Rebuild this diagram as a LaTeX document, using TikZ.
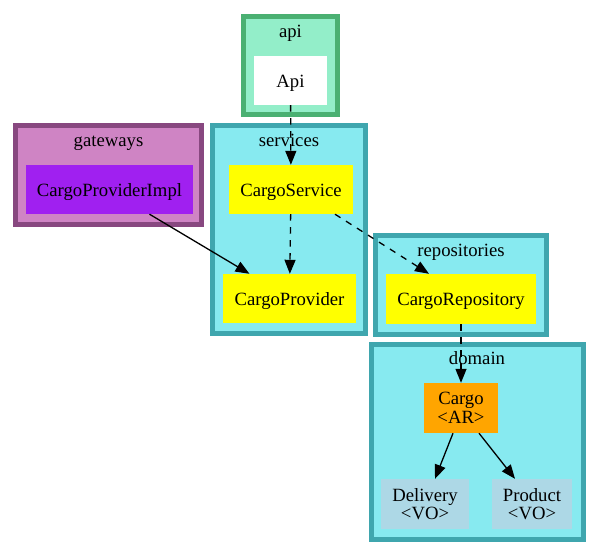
\documentclass[tikz,border=0pt]{standalone}
\usepackage{fontspec}
\setmainfont{Liberation Serif}
\usetikzlibrary{arrows.meta}
\definecolor{apifill}{HTML}{93EEC9}
\definecolor{apiline}{HTML}{4AB072}
\definecolor{gwfill}{HTML}{CF84C4}
\definecolor{gwline}{HTML}{884880}
\definecolor{implfill}{HTML}{A020F0}
\definecolor{pkgfill}{HTML}{87EAF0}
\definecolor{pkgline}{HTML}{3FA6AE}
\definecolor{portfill}{HTML}{FFFF00}
\definecolor{arfill}{HTML}{FFA500}
\definecolor{vofill}{HTML}{ADD8E6}
\begin{document}
\begin{tikzpicture}[x=1pt, y=-1pt,
    every node/.style={font=\fontsize{18.7}{18.5}\selectfont},
    frame/.style={line width=5.4pt},
    box/.style={inner sep=0pt, align=center},
    oneline/.style={box, text height=17pt, text depth=4pt},
    lbl/.style={anchor=base, inner sep=0pt},
    dep/.style={line width=1.3pt, dash pattern=on 6.5pt off 6.5pt, -{Triangle[length=14pt, width=11pt]}},
    use/.style={line width=1.3pt, -{Triangle[length=14pt, width=11pt]}}]
    \useasboundingbox (0,0) rectangle (599,555);
    % packages
    \draw[frame, draw=apiline, fill=apifill] (243.7,16.7) rectangle (337.3,114.3);
    \draw[frame, draw=gwline, fill=gwfill] (15.7,125.7) rectangle (201.3,224.3);
    \draw[frame, draw=pkgline, fill=pkgfill] (212.7,125.7) rectangle (365.3,333.3);
    \draw[frame, draw=pkgline, fill=pkgfill] (375.7,235.7) rectangle (546.3,334.3);
    \draw[frame, draw=pkgline, fill=pkgfill] (371.7,344.7) rectangle (583.3,539.3);
    \node[lbl] (apilbl) at (290.5,37) {api};
    \node[lbl] (gwlbl) at (108.5,146) {gateways};
    \node[lbl] (svclbl) at (289,146) {services};
    \node[lbl] (repolbl) at (461,256) {repositories};
    \node[lbl] (domlbl) at (477,364) {domain};
    % classes
    \node[oneline, fill=white, minimum width=73pt, minimum height=49pt] (api) at (290.5,80.5) {Api};
    \node[oneline, fill=implfill, minimum width=167pt, minimum height=49pt] (impl) at (109.5,189.5) {CargoProviderImpl};
    \node[oneline, fill=portfill, minimum width=124pt, minimum height=49pt] (svc) at (291,189.5) {CargoService};
    \node[oneline, fill=portfill, minimum width=133pt, minimum height=49pt] (prov) at (289.5,298.5) {CargoProvider};
    \node[oneline, fill=portfill, minimum width=150pt, minimum height=50pt] (repo) at (461,299) {CargoRepository};
    \node[box, fill=arfill, minimum width=74pt, minimum height=50pt] (cargo) at (461,408) {Cargo\\<AR>};
    \node[box, fill=vofill, minimum width=88pt, minimum height=50pt] (deliv) at (425,504) {Delivery\\<VO>};
    \node[box, fill=vofill, minimum width=80pt, minimum height=50pt] (prod) at (532,504) {Product\\<VO>};
    % dependencies
    \draw[dep] (api) -- (svc);
    \draw[dep] (svc) -- (prov);
    \draw[dep] ([xshift=44pt]svc.south) -- ([xshift=-32pt]repo.north);
    \draw[use] ([xshift=40pt]impl.south) -- ([xshift=-40pt]prov.north);
    \draw[dep] (repo) -- (cargo);
    \draw[use] ([xshift=-8pt]cargo.south) -- ([xshift=10pt]deliv.north);
    \draw[use] ([xshift=18pt]cargo.south) -- ([xshift=-17pt]prod.north);
\end{tikzpicture}
\end{document}
